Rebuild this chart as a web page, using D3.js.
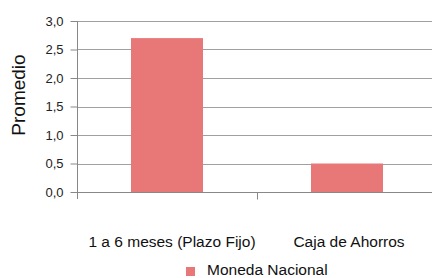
<!DOCTYPE html>
<html><head><meta charset="utf-8">
<script src="https://cdn.jsdelivr.net/npm/d3@7"></script>
<style>body{margin:0;background:#fff}svg{display:block;font-family:"Liberation Sans",Arial,sans-serif}</style>
</head><body>
<svg id="c" width="432" height="278"></svg>
<script>
const categories = ["1 a 6 meses (Plazo Fijo)", "Caja de Ahorros"];
const values = [2.7, 0.5];
const yTicks = [0, 0.5, 1.0, 1.5, 2.0, 2.5, 3.0];
const seriesName = "Moneda Nacional";
const yTitle = "Promedio";

const svg = d3.select("#c");
const x = d3.scaleBand().domain(categories).range([77, 437]).paddingInner(0.6).paddingOuter(0.3);
const xb = d3.scaleBand().domain(categories).range([77, 437]).padding(0);
const y = d3.scaleLinear().domain([0, 3]).range([192, 21]);
const fmt = d => d.toFixed(1).replace(".", ",");
const barColor = "#e87878";

// gridlines
svg.append("g").selectAll("line").data(yTicks.filter(d => d > 0)).join("line")
  .attr("x1", 77).attr("x2", 437).attr("y1", d => Math.round(y(d)) + 0.5).attr("y2", d => Math.round(y(d)) + 0.5)
  .attr("stroke", "#a0a0a0").attr("stroke-width", 1);

// bars
svg.append("g").selectAll("rect").data(values).join("rect")
  .attr("x", (d, i) => x(categories[i])).attr("width", x.bandwidth())
  .attr("y", d => y(d)).attr("height", d => y(0) - y(d))
  .attr("fill", barColor);

// y axis
const ya = svg.append("g").attr("transform", "translate(77.5,0)")
  .call(d3.axisLeft(y).tickValues(yTicks).tickFormat(fmt).tickSize(7).tickPadding(7));
ya.select(".domain").attr("stroke", "#888").attr("d", `M0,${y(3)}V${y(0) + 7}`);
ya.selectAll(".tick line").attr("stroke", "#888");
ya.selectAll(".tick text").attr("font-size", 13).attr("fill", "#222").attr("font-family", "Liberation Sans, Arial, sans-serif");

// x axis
const xa = svg.append("g").attr("transform", `translate(0,${Math.round(y(0)) + 0.5})`);
xa.append("line").attr("x1", 77).attr("x2", 437).attr("stroke", "#888");
xa.selectAll("line.t").data(categories.slice(1)).join("line").attr("class", "t")
  .attr("x1", d => Math.round(xb(d)) + 0.5).attr("x2", d => Math.round(xb(d)) + 0.5)
  .attr("y1", 0).attr("y2", 7).attr("stroke", "#888");
xa.selectAll("text").data(categories).join("text")
  .attr("x", d => xb(d) + xb.bandwidth() / 2 + (d === categories[0] ? 5 : 2)).attr("y", 54)
  .attr("text-anchor", "middle").attr("font-size", 15.5).attr("fill", "#111").text(d => d);

// y title
svg.append("text").attr("transform", "translate(25,95) rotate(-90)")
  .attr("text-anchor", "middle").attr("font-size", 19).attr("fill", "#111").text(yTitle);

// legend
const lg = svg.append("g");
lg.append("rect").attr("x", 186).attr("y", 267).attr("width", 9).attr("height", 9).attr("fill", barColor);
lg.append("text").attr("x", 207).attr("y", 275).attr("font-size", 15.5).attr("fill", "#111").text(seriesName);
</script>
</body></html>
